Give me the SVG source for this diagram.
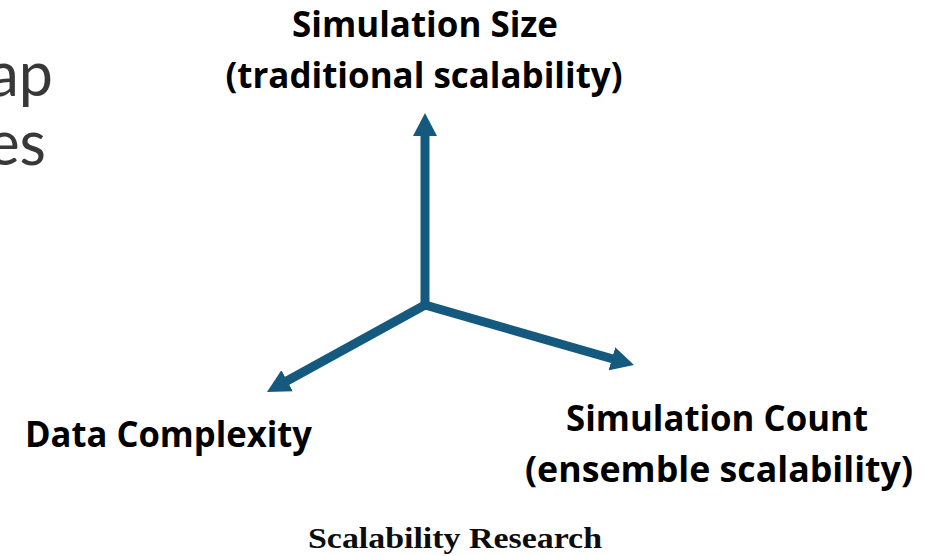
<svg xmlns="http://www.w3.org/2000/svg" width="928" height="556" viewBox="0 0 928 556">
  <style>
    .label { font-family: "Open Sans", "Liberation Sans", sans-serif; font-weight: 700; font-size: 35px; fill: #000; }
    .title { font-family: Lato, "Open Sans", sans-serif; font-size: 61px; fill: #383838; }
    .caption { font-family: "Liberation Serif", serif; font-weight: 700; font-size: 30px; fill: #0d0d0d; }
    .axis { fill: none; stroke: #155a7e; stroke-width: 9; stroke-linecap: round; marker-end: url(#head); }
  </style>
  <defs>
    <marker id="head" markerUnits="userSpaceOnUse" markerWidth="24" markerHeight="26" refX="3" refY="12" orient="auto" viewBox="0 0 24 24">
      <path d="M0,0 L23,12 L0,24 z" fill="#155a7e"/>
    </marker>
  </defs>
  <rect width="928" height="556" fill="#fff"/>

  <!-- slide title fragments running off the left edge -->
  <g id="title">
    <text class="title" x="53" y="96" text-anchor="end">ap</text>
    <text class="title" x="46" y="165" text-anchor="end">es</text>
  </g>

  <!-- three axes from a common origin -->
  <g id="connectors">
    <path class="axis" d="M425,305 L425,133"/>
    <path class="axis" d="M425,305 L284.5,382.3"/>
    <path class="axis" d="M425,305 L614.8,359.5"/>
  </g>

  <g id="simulation-size">
    <text class="label" x="425" y="37" text-anchor="middle" textLength="266" lengthAdjust="spacingAndGlyphs">Simulation Size</text>
    <text class="label" x="424" y="88" text-anchor="middle" textLength="397" lengthAdjust="spacingAndGlyphs">(traditional scalability)</text>
  </g>

  <g id="data-complexity">
    <text class="label" x="25" y="447" textLength="287" lengthAdjust="spacingAndGlyphs">Data Complexity</text>
  </g>

  <g id="simulation-count">
    <text class="label" x="566" y="431" textLength="302" lengthAdjust="spacingAndGlyphs">Simulation Count</text>
    <text class="label" x="525" y="482" textLength="388" lengthAdjust="spacingAndGlyphs">(ensemble scalability)</text>
  </g>

  <g id="caption">
    <text class="caption" x="308" y="548" textLength="294" lengthAdjust="spacingAndGlyphs">Scalability Research</text>
  </g>
</svg>
